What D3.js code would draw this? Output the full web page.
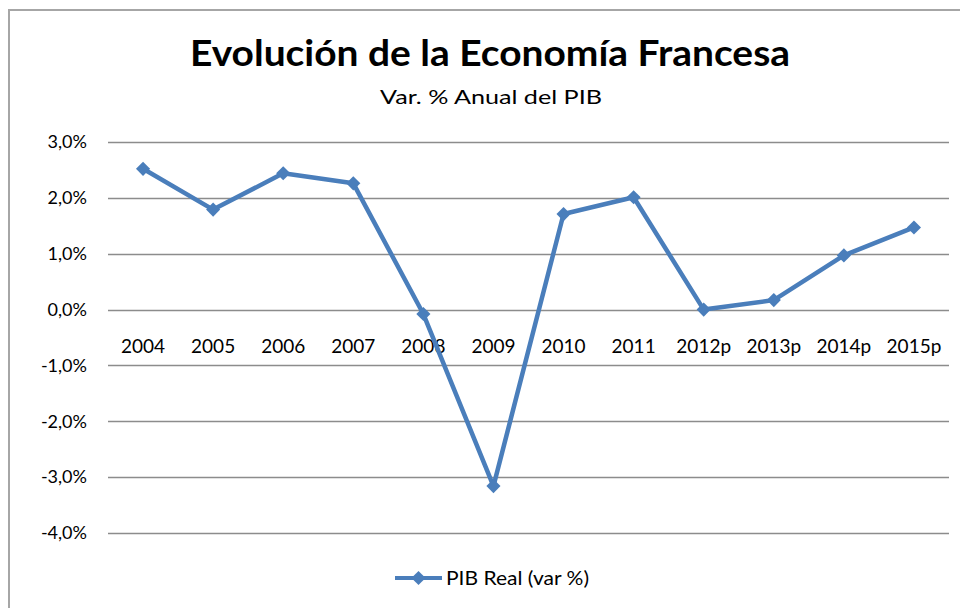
<!DOCTYPE html>
<html>
<head>
<meta charset="utf-8">
<script src="https://cdn.jsdelivr.net/npm/d3@7"></script>
<style>
  body { margin: 0; background: #fff; }
  svg { display: block; font-family: Lato, "Open Sans", sans-serif; }
</style>
</head>
<body>
<div class="chart"></div>
<script>
// Data

const years = ['2004', '2005', '2006', '2007', '2008', '2009', '2010', '2011', '2012p', '2013p', '2014p', '2015p']
const pibReal = [2.52, 1.79, 2.44, 2.26, -0.08, -3.16, 1.71, 2.01, 0.0, 0.17, 0.97, 1.47]
const yTicks = [3, 2, 1, 0, -1, -2, -3, -4]

const title = 'Evolución de la Economía Francesa'
const subtitle = 'Var. % Anual del PIB'
const seriesName = 'PIB Real (var %)'

// Line chart

const drawLineChart = () => {
  const width = 960
  const height = 608
  const margin = {top: 142, right: 11, bottom: 75, left: 108}
  const blue = '#4a7ebb'

  const svg = d3.select('.chart')
    .append('svg')
      .attr('width', width)
      .attr('height', height)

  // outer frame (only top and left edges visible)
  svg.append('path')
      .attr('d', `M9,${height} V10 H${width}`)
      .attr('fill', 'none')
      .attr('stroke', '#a6a6a6')
      .attr('stroke-width', 2)

  svg.append('text')
      .attr('x', 490)
      .attr('y', 66)
      .attr('text-anchor', 'middle')
      .attr('textLength', 600)
      .attr('lengthAdjust', 'spacingAndGlyphs')
      .style('font-size', '36px')
      .style('font-weight', 'bold')
      .attr('fill', '#000')
      .text(title)

  svg.append('text')
      .attr('x', 491)
      .attr('y', 104)
      .attr('text-anchor', 'middle')
      .attr('textLength', 222)
      .attr('lengthAdjust', 'spacingAndGlyphs')
      .style('font-size', '20px')
      .attr('fill', '#000')
      .text(subtitle)

  const x = d3.scaleBand()
    .domain(years)
    .range([margin.left, width - margin.right])

  const y = d3.scaleLinear()
    .domain([-4, 3])
    .range([533, margin.top])

  // gridlines
  svg.append('g')
    .selectAll('line')
    .data(yTicks)
    .enter().append('line')
      .attr('x1', margin.left)
      .attr('x2', width - margin.right)
      .attr('y1', (d) => Math.round(y(d)) + 0.5)
      .attr('y2', (d) => Math.round(y(d)) + 0.5)
      .attr('stroke', '#8c8c8c')
      .attr('stroke-width', 1.5)

  // y axis labels
  const yAxis = d3.axisLeft(y)
    .tickValues(yTicks)
    .tickSize(0)
    .tickPadding(0)
    .tickFormat((d) => d3.format('.1f')(d).replace('.', ',').replace('−', '-') + '%')

  svg.append('g')
      .attr('transform', 'translate(87,0)')
      .call(yAxis)
      .call((g) => g.select('.domain').remove())
    .selectAll('text')
      .style('font-size', '18px')
      .style('font-family', 'Lato, "Open Sans", sans-serif')
      .attr('fill', '#000')

  // x axis labels, sitting just below the zero line
  const xAxis = d3.axisBottom(x)
    .tickSize(0)
    .tickPadding(30)

  svg.append('g')
      .attr('transform', `translate(0,${y(0)})`)
      .call(xAxis)
      .call((g) => g.select('.domain').remove())
    .selectAll('text')
      .style('font-size', '19px')
      .style('font-family', 'Lato, "Open Sans", sans-serif')
      .attr('fill', '#000')

  const line = d3.line()
    .x((d, i) => x(years[i]) + x.bandwidth() / 2)
    .y((d) => y(d))

  svg.append('path')
      .datum(pibReal)
      .attr('d', line)
      .attr('fill', 'none')
      .attr('stroke', blue)
      .attr('stroke-width', 4.5)
      .attr('stroke-linejoin', 'round')

  const diamond = d3.symbol().type(d3.symbolSquare).size(100)

  svg.append('g')
    .selectAll('path')
    .data(pibReal)
    .enter().append('path')
      .attr('d', diamond)
      .attr('transform', (d, i) => `translate(${x(years[i]) + x.bandwidth() / 2},${y(d)}) rotate(45)`)
      .attr('fill', blue)

  // legend
  const legend = svg.append('g')
      .attr('transform', 'translate(395,578)')

  legend.append('line')
      .attr('x1', 0)
      .attr('x2', 47)
      .attr('stroke', blue)
      .attr('stroke-width', 4)

  legend.append('path')
      .attr('d', diamond)
      .attr('transform', 'translate(23.5,0) rotate(45)')
      .attr('fill', blue)

  legend.append('text')
      .attr('x', 51)
      .attr('dy', '0.35em')
      .attr('textLength', 143)
      .attr('lengthAdjust', 'spacingAndGlyphs')
      .style('font-size', '20px')
      .attr('fill', '#000')
      .text(seriesName)
}

drawLineChart()
</script>
</body>
</html>
